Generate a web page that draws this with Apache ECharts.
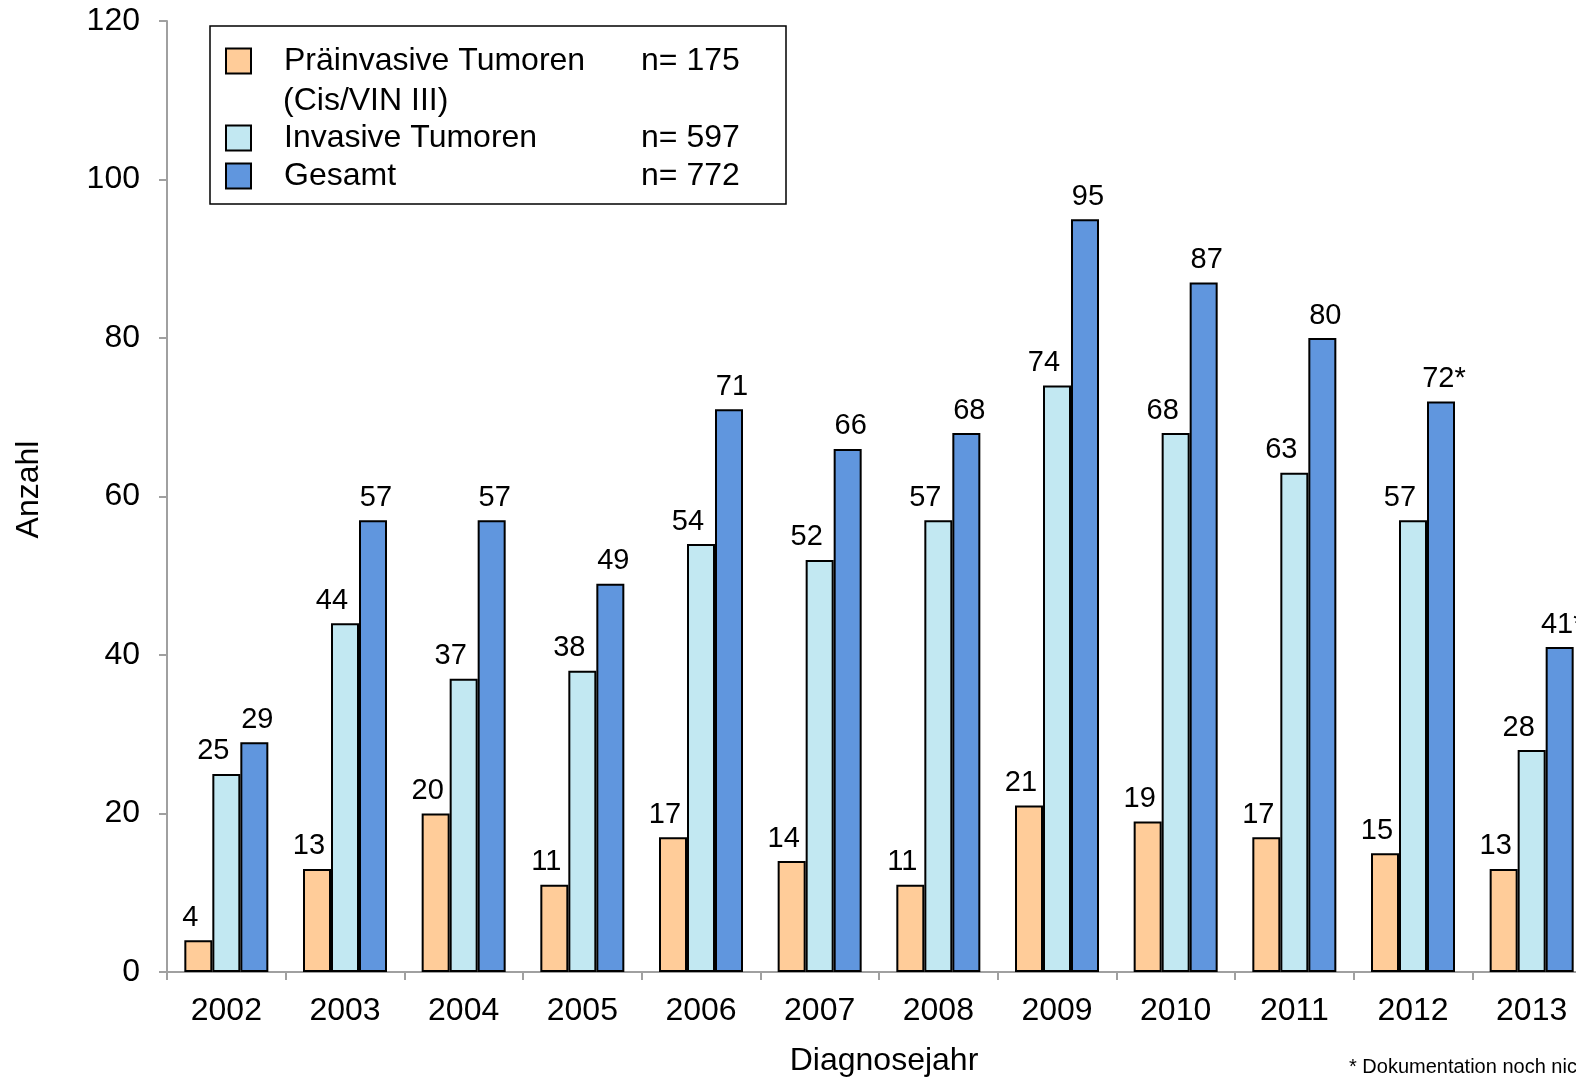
<!DOCTYPE html>
<html>
<head>
<meta charset="utf-8">
<script src="https://cdn.jsdelivr.net/npm/echarts@6/dist/echarts.min.js"></script>
<style>
  html, body { margin: 0; padding: 0; background: #fff; overflow: hidden; }
  #chart { width: 1576px; height: 1079px; }
</style>
</head>
<body>
<div id="chart"></div>
<script>
// Daten
var years = ['2002', '2003', '2004', '2005', '2006', '2007', '2008', '2009', '2010', '2011', '2012', '2013'];
var praeinvasiv = [4, 13, 20, 11, 17, 14, 11, 21, 19, 17, 15, 13];
var invasiv = [25, 44, 37, 38, 54, 52, 57, 74, 68, 63, 57, 28];
var gesamt = [29, 57, 57, 49, 71, 66, 68, 95, 87, 80, 72, 41];
var gesamtLabels = ['29', '57', '57', '49', '71', '66', '68', '95', '87', '80', '72*', '41*'];
var seriesNames = ['Präinvasive Tumoren', 'Invasive Tumoren', 'Gesamt'];
var seriesTotals = ['n= 175', 'n= 597', 'n= 772'];
var yTicks = [0, 20, 40, 60, 80, 100, 120];

var font = 'Liberation Sans, Arial, sans-serif';
var colors = ['#FFCC99', '#C2E8F2', '#6096DE'];

var myChart = echarts.init(document.getElementById('chart'));

function legendFormatter(name) {
  var i = seriesNames.indexOf(name);
  return '{g| }{a|' + name + '}{b|' + seriesTotals[i] + '}';
}

var legendText = {
  fontFamily: font,
  fontSize: 32,
  color: '#000',
  lineHeight: 32,
  rich: {
    g: { width: 28, fontFamily: font, fontSize: 32, lineHeight: 32 },
    a: { width: 357, fontFamily: font, fontSize: 32, lineHeight: 32, color: '#000' },
    b: { fontFamily: font, fontSize: 32, lineHeight: 32, color: '#000' }
  }
};

function barLabel(offsetX, fmt) {
  return {
    show: true,
    position: 'top',
    distance: 8,
    offset: [offsetX, 0],
    fontFamily: font,
    fontSize: 29,
    color: '#000',
    formatter: fmt
  };
}

function legendBlock(names, top) {
  return {
    data: names,
    orient: 'vertical',
    left: 225,
    top: top,
    padding: 0,
    icon: 'rect',
    itemWidth: 25,
    itemHeight: 25,
    itemGap: 6,
    itemStyle: { borderColor: '#000', borderWidth: 2 },
    textStyle: legendText,
    formatter: legendFormatter,
    selectedMode: false
  };
}

var option = {
  animation: false,
  backgroundColor: '#fff',
  textStyle: { fontFamily: font },
  grid: {
    left: 167, top: 21, width: 1424, height: 951,
    containLabel: false,
    outerBoundsMode: 'none'
  },
  legend: [
    legendBlock([seriesNames[0]], 45),
    legendBlock([seriesNames[1], seriesNames[2]], 122)
  ],
  graphic: [{
    type: 'rect',
    shape: { x: 210, y: 26, width: 576, height: 178 },
    style: { fill: 'none', stroke: '#000', lineWidth: 1.5 },
    z: 1
  }, {
    type: 'text',
    left: 283,
    top: 85,
    style: { text: '(Cis/VIN III)', fontFamily: font, fontSize: 32, fill: '#000' }
  }, {
    type: 'text',
    left: 1349,
    top: 1057,
    style: { text: '* Dokumentation noch nicht vollständig', fontFamily: font, fontSize: 20, fill: '#000' }
  }],
  xAxis: {
    type: 'category',
    data: years,
    name: 'Diagnosejahr',
    nameLocation: 'middle',
    nameGap: 73,
    nameTextStyle: { fontFamily: font, fontSize: 32, color: '#000', padding: [0, 0, 0, 10] },
    axisLine: { lineStyle: { color: '#a0a0a0', width: 2 } },
    axisTick: { show: true, length: 8, lineStyle: { color: '#a0a0a0', width: 2 } },
    axisLabel: { fontFamily: font, fontSize: 32, color: '#000', margin: 23 }
  },
  yAxis: {
    type: 'value',
    min: 0,
    max: 120,
    interval: 20,
    name: 'Anzahl',
    nameLocation: 'middle',
    nameGap: 122,
    nameTextStyle: { fontFamily: font, fontSize: 32, color: '#000', padding: [0, 0, 0, 14] },
    axisLine: { show: true, lineStyle: { color: '#a0a0a0', width: 2 } },
    axisTick: { show: true, length: 8, lineStyle: { color: '#a0a0a0', width: 2 } },
    axisLabel: {
      fontFamily: font, fontSize: 32, color: '#000', margin: 27,
      formatter: function (v) { return yTicks.indexOf(v) >= 0 ? String(v) : ''; }
    },
    splitLine: { show: false }
  },
  series: [{
    name: seriesNames[0],
    type: 'bar',
    data: praeinvasiv,
    barWidth: 28,
    barGap: '0%',
    itemStyle: { color: colors[0], borderColor: '#000', borderWidth: 2 },
    label: barLabel(-8)
  }, {
    name: seriesNames[1],
    type: 'bar',
    data: invasiv,
    barWidth: 28,
    barGap: '0%',
    itemStyle: { color: colors[1], borderColor: '#000', borderWidth: 2 },
    label: barLabel(-13)
  }, {
    name: seriesNames[2],
    type: 'bar',
    data: gesamt,
    barWidth: 28,
    barGap: '0%',
    itemStyle: { color: colors[2], borderColor: '#000', borderWidth: 2 },
    label: barLabel(3, function (p) { return gesamtLabels[p.dataIndex]; })
  }]
};

myChart.setOption(option);
</script>
</body>
</html>
